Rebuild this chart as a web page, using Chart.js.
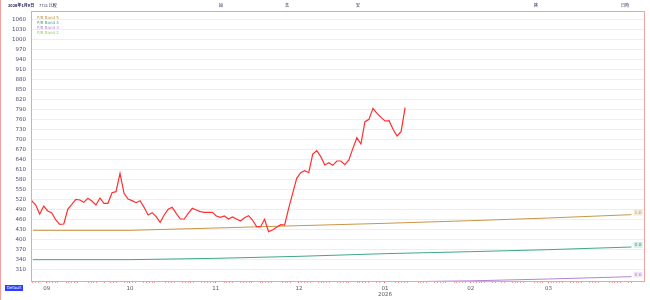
<!DOCTYPE html>
<html>
<head>
<meta charset="utf-8">
<script src="https://cdn.jsdelivr.net/npm/chart.js@4.4.1/dist/chart.umd.min.js"></script>
<style>
  body { margin: 0; background: #fff; }
  #wrap { position: relative; width: 650px; height: 300px; border-left: 1px solid #f2a0a0; box-sizing: border-box; }
  #head { position: absolute; top: 2px; left: 0; width: 650px; height: 8px; font: 4px "Noto Sans CJK JP", sans-serif; color: #1e1e5a; }
  #head span { position: absolute; top: 0; white-space: nowrap; }
  #btn { position: absolute; left: 4px; top: 285px; width: 18px; height: 6px; background: #2f3cff; color: #fff; font: 4px "DejaVu Sans", sans-serif; line-height: 6px; text-align: center; }
  canvas { position: absolute; left: 0; top: 0; }
</style>
</head>
<body>
<div id="wrap">
  <canvas id="lineChart" width="650" height="300"></canvas>
  <div id="head">
    <span style="left:7px;font-weight:bold">2026年1月9日</span>
    <span style="left:38px">7731 比較</span>
    <span style="left:218px">始</span>
    <span style="left:284px">高</span>
    <span style="left:355px">安</span>
    <span style="left:533px">終</span>
    <span style="left:620px">日時</span>
  </div>
  <div id="btn">Default</div>
</div>
<script>
// dados do gráfico
var holidays = ['2025-09-15', '2025-09-23', '2025-10-13', '2025-11-03', '2025-11-24', '2025-12-31',
    '2026-01-01', '2026-01-02', '2026-01-12', '2026-02-11', '2026-02-23', '2026-03-20'];

// cotação por sessão (27/08/2025 até 09/01/2026)
var price = [516, 503, 476, 500, 485, 479, 458, 445, 446, 491, 505, 520, 518, 511, 523, 515, 503, 524, 508, 508,
    540, 543, 598, 538, 521, 516, 510, 516, 496, 473, 480, 468, 451, 473, 490, 496, 478, 461, 461, 478,
    493, 488, 483, 481, 481, 481, 470, 466, 470, 461, 467, 461, 455, 465, 471, 458, 438, 438, 460, 423,
    428, 436, 444, 443, 493, 538, 583, 600, 606, 600, 656, 666, 648, 623, 630, 622, 635, 635, 624, 638,
    673, 705, 686, 753, 760, 793, 778, 766, 755, 756, 730, 710, 723, 795];

var bandDates = ['2025-08-27', '2025-10-01', '2025-11-01', '2025-12-01', '2026-01-01', '2026-02-01', '2026-03-01', '2026-03-31'];
var band5 = [427, 427, 434, 441, 448, 456, 464, 474];
var band4 = [339, 339, 343, 349, 357, 363, 369, 377];
var band3 = [259, 259, 262, 267, 272, 275.5, 281, 288];
var band2 = [198, 198, 201, 205, 209, 212, 216, 221];

var bandNames = ['P/B Band 5', 'P/B Band 4', 'P/B Band 3', 'P/B Band 2'];
var bandTags = ['1.0', '0.8', '0.6', '0.4'];

var monthDates = ['2025-09-01', '2025-10-01', '2025-11-01', '2025-12-01', '2026-01-01', '2026-02-01', '2026-03-01'];
var monthLabels = ['09', '10', '11', '12', ['01', '2026'], '02', '03'];

var yTicks = [310, 340, 370, 400, 430, 460, 490, 520, 550, 580, 610, 640, 670, 700, 730, 760,
    790, 820, 850, 880, 910, 940, 970, 1000, 1030, 1060];

// dia relativo a 1 de setembro
function dayNum(s) {
    var p = s.split('-');
    return (Date.UTC(+p[0], p[1] - 1, +p[2]) - Date.UTC(2025, 8, 1)) / 86400000;
}

function tradingDays(from, to) {
    var out = [];
    for (var d = dayNum(from); d <= dayNum(to); d++) {
        var dt = new Date(Date.UTC(2025, 8, 1) + d * 86400000);
        var s = dt.toISOString().slice(0, 10);
        var wd = dt.getUTCDay();
        if (wd !== 0 && wd !== 6 && holidays.indexOf(s) < 0) out.push(s);
    }
    return out;
}

var minorDays = tradingDays('2025-08-27', '2026-03-31').map(dayNum);
var monthDays = monthDates.map(dayNum);

var pink = '#f2a0a0';
var bandColors = ['#c99646', '#3fa882', '#b584d4', '#9ccc6a'];

var decor = {
    id: 'decor',
    afterDraw: function (chart) {
        var ctx = chart.ctx, a = chart.chartArea;
        ctx.save();
        ctx.strokeStyle = pink;
        ctx.lineWidth = 1;
        ctx.strokeRect(Math.round(a.left) + 0.5, Math.round(a.top) + 0.5, Math.round(a.right - a.left), Math.round(a.bottom - a.top));
        // legenda
        ctx.font = '4px "DejaVu Sans"';
        ctx.textBaseline = 'middle';
        ctx.textAlign = 'left';
        for (var i = 0; i < bandNames.length; i++) {
            ctx.fillStyle = bandColors[i];
            ctx.fillText(bandNames[i], a.left + 6, a.top + 7 + i * 5);
        }
        // rótulos no fim das bandas
        ctx.font = '4.5px "DejaVu Sans"';
        for (var j = 1; j <= 4; j++) {
            var meta = chart.getDatasetMeta(j);
            var last = meta.data[meta.data.length - 1];
            if (!last || last.y > a.bottom || last.y < a.top) continue;
            var t = bandTags[j - 1];
            var w = ctx.measureText(t).width;
            ctx.globalAlpha = 0.18;
            ctx.fillStyle = bandColors[j - 1];
            ctx.fillRect(last.x + 2, last.y - 5, w + 2, 6);
            ctx.globalAlpha = 1;
            ctx.fillText(t, last.x + 3, last.y - 2);
        }
        ctx.restore();
    }
};

window.onload = function () {
    var ctx = document.getElementById('lineChart').getContext('2d');
    var bandSets = [band5, band4, band3, band2].map(function (b, i) {
        return {
            label: bandNames[i],
            xAxisID: 'x',
            data: b.map(function (v, k) { return { x: dayNum(bandDates[k]), y: v }; }),
            borderColor: bandColors[i],
            borderWidth: 1,
            pointRadius: 0,
            tension: 0
        };
    });
    new Chart(ctx, {
        type: 'line',
        data: {
            datasets: [{
                label: '7731',
                xAxisID: 'xi',
                data: price.map(function (v, i) { return { x: i, y: v }; }),
                borderColor: '#ff3030',
                borderWidth: 1.2,
                pointRadius: 0,
                tension: 0
            }].concat(bandSets)
        },
        options: {
            responsive: false,
            devicePixelRatio: 1,
            animation: false,
            layout: { padding: { top: 11, right: 7, left: 0, bottom: 0 } },
            plugins: {
                legend: { display: false },
                tooltip: { enabled: false }
            },
            scales: {
                x: {
                    type: 'linear',
                    min: -5.7,
                    max: 215.5,
                    afterBuildTicks: function (axis) {
                        var v = minorDays.concat(monthDays);
                        v = v.filter(function (x, i) { return v.indexOf(x) === i; }).sort(function (p, q) { return p - q; });
                        axis.ticks = v.map(function (x) { return { value: x }; });
                    },
                    afterFit: function (axis) { axis.height = 19; },
                    ticks: {
                        autoSkip: false,
                        maxRotation: 0,
                        padding: 2,
                        color: '#555560',
                        font: { size: 5.5, family: 'DejaVu Sans', lineHeight: 1.15 },
                        callback: function (value) {
                            var k = monthDays.indexOf(value);
                            return k >= 0 ? monthLabels[k] : '';
                        }
                    },
                    grid: {
                        drawOnChartArea: false,
                        tickLength: 2,
                        color: function (c) {
                            return c.tick && monthDays.indexOf(c.tick.value) >= 0 ? '#e86868' : pink;
                        }
                    },
                    border: { color: pink }
                },
                // eixo por sessão (oculto) para a cotação
                xi: {
                    type: 'linear',
                    display: false,
                    min: -0.17,
                    max: 152.5
                },
                y: {
                    min: 275,
                    max: 1085,
                    afterBuildTicks: function (axis) {
                        axis.ticks = yTicks.map(function (v) { return { value: v }; });
                    },
                    afterFit: function (axis) { axis.width = 30; },
                    ticks: {
                        padding: 5,
                        color: '#4d4d6e',
                        font: { size: 5.5, family: 'DejaVu Sans' },
                        callback: function (value) { return String(value); }
                    },
                    grid: { color: '#eeeeee', drawTicks: false },
                    border: { color: pink }
                }
            }
        },
        plugins: [decor]
    });
};
</script>
</body>
</html>
